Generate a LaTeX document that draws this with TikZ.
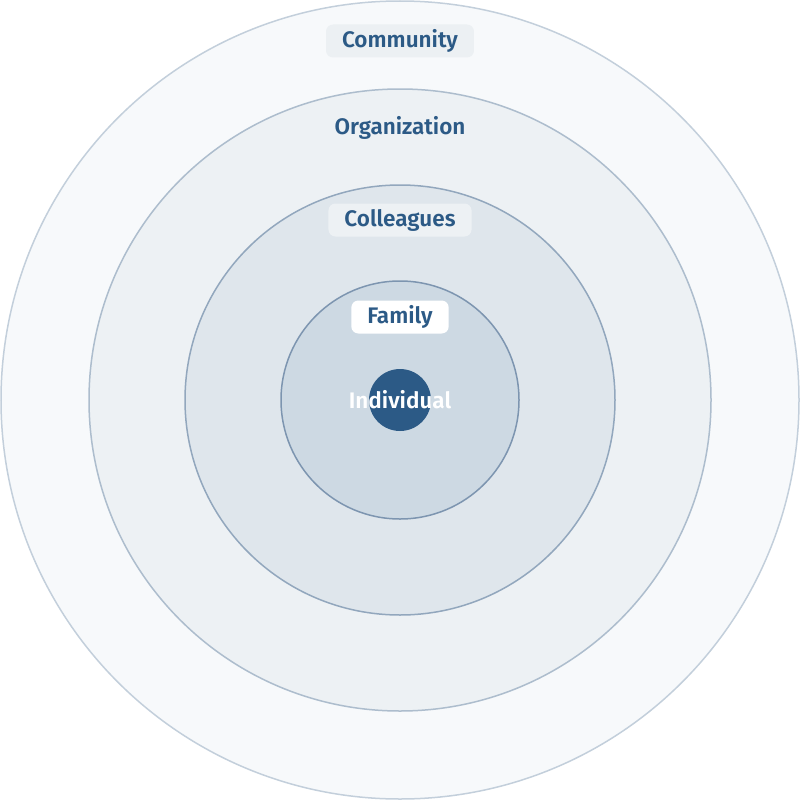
\documentclass[tikz,border=0pt]{standalone}
\usepackage{fontspec}
\setmainfont{Fira Sans}[BoldFont={Fira Sans SemiBold}]
\definecolor{ink}{HTML}{2C5A86}
\definecolor{f1}{HTML}{F7F9FB}\definecolor{s1}{HTML}{C3CFDB}
\definecolor{f2}{HTML}{EDF1F4}\definecolor{s2}{HTML}{ADBDCD}
\definecolor{f3}{HTML}{DFE6EC}\definecolor{s3}{HTML}{92A7BD}
\definecolor{f4}{HTML}{CDD9E3}\definecolor{s4}{HTML}{7D95B0}
\definecolor{lb}{HTML}{ECF0F3}
\tikzset{
  ring/.style={circle,draw=#1,line width=1.5pt,inner sep=0pt},
  lbl/.style={text=ink,font=\fontsize{22.5}{26}\selectfont\bfseries,rounded corners=7pt,minimum height=33pt,inner xsep=16pt},
}
\begin{document}
\begin{tikzpicture}[x=1pt,y=-1pt]
\useasboundingbox (0,0) rectangle (800,800);
\node[ring=s1,fill=f1,minimum size=798pt] (c1) at (400,400) {};
\node[ring=s2,fill=f2,minimum size=622pt] (c2) at (400,400) {};
\node[ring=s3,fill=f3,minimum size=430pt] (c3) at (400,400) {};
\node[ring=s4,fill=f4,minimum size=238pt] (c4) at (400,400) {};
\node[circle,fill=ink,minimum size=62pt,inner sep=0pt] (c5) at (400,400) {};
\node[lbl,fill=lb] (comm) at (400,41) {Community};
\node[lbl] (org) at (400,128) {Organization};
\node[lbl,fill=f2] (coll) at (400,220) {Colleagues};
\node[lbl,fill=white] (fam) at (400,317) {Family};
\node[lbl,text=white] (ind) at (400,400) {Individual};
\end{tikzpicture}
\end{document}
